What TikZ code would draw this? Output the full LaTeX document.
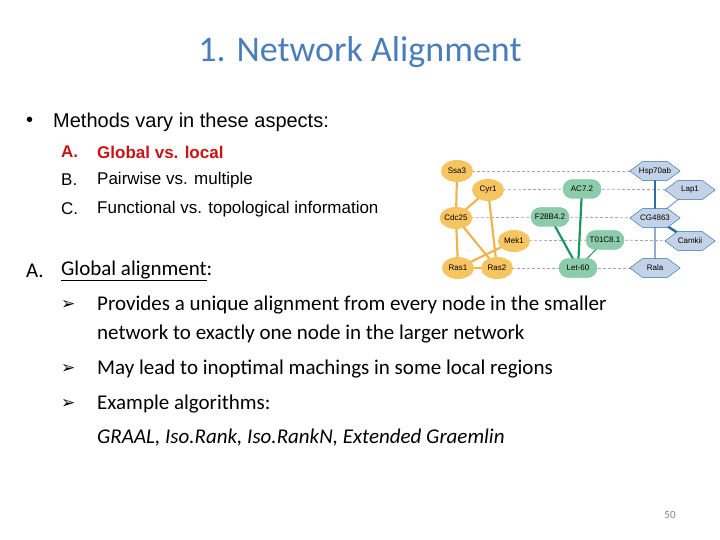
\documentclass[tikz,border=0pt]{standalone}
\usepackage{fontspec}
\setmainfont{Carlito}
\newfontfamily\arial{Liberation Sans}
\newfontfamily\dejav{DejaVu Sans}
\usetikzlibrary{shapes.geometric,shapes.misc,backgrounds}
\definecolor{ttl}{RGB}{74,126,187}
\definecolor{redt}{RGB}{200,20,20}
\definecolor{yel}{RGB}{246,196,96}
\definecolor{yele}{RGB}{238,180,80}
\definecolor{grn}{RGB}{140,204,170}
\definecolor{grne}{RGB}{30,150,100}
\definecolor{blu}{RGB}{196,210,232}
\definecolor{blue}{RGB}{40,110,170}
\definecolor{blul}{RGB}{150,170,205}
\tikzset{
 txt/.style={anchor=west,inner sep=0pt,text=black},
 ynode/.style={ellipse,fill=yel,minimum width=32pt,minimum height=22pt,inner sep=0pt,font=\arial\fontsize{8}{9}\selectfont},
 gnode/.style={rounded rectangle,fill=grn,draw=grne!60,minimum width=40pt,minimum height=19pt,inner sep=1pt,font=\arial\fontsize{8}{9}\selectfont},
 bnode/.style={regular polygon,regular polygon sides=6,fill=blu,draw=blue,minimum size=36pt,inner sep=0pt,xscale=1.4,yscale=0.6},
 btext/.style={font=\arial\fontsize{8}{9}\selectfont,inner sep=0pt},
 yedge/.style={yele,line width=2.2pt},
 gedge/.style={grne,line width=2.2pt},
 aligndash/.style={gray!70,densely dashed,line width=0.8pt},
}
\begin{document}
\begin{tikzpicture}[x=1pt,y=-1pt]
\useasboundingbox (0,0) rectangle (720,540);
\node[inner sep=0pt,text=ttl,font=\fontsize{36}{40}\selectfont] (title) at (360,52) {1. Network Alignment};
\node[txt,font=\arial\fontsize{20}{24}\selectfont] (b0) at (26,122) {•};
\node[txt,font=\arial\fontsize{20}{24}\selectfont] (m) at (53,122) {Methods vary in these aspects:};
\node[txt,font=\arial\bfseries\fontsize{17}{20}\selectfont,text=redt] (la) at (61,152) {A.};
\node[txt,font=\arial\bfseries\fontsize{17}{20}\selectfont,text=redt] (ta) at (97,152) {Global vs. local};
\node[txt,font=\arial\fontsize{17}{20}\selectfont] (lb) at (61,180) {B.};
\node[txt,font=\arial\fontsize{17}{20}\selectfont] (tb) at (97,180) {Pairwise vs. multiple};
\node[txt,font=\arial\fontsize{17}{20}\selectfont] (lc) at (61,209) {C.};
\node[txt,font=\arial\fontsize{17}{20}\selectfont] (tc) at (97,209) {Functional vs. topological information};
% network
\node[ynode] (ssa) at (457,171) {Ssa3};
\node[ynode] (cyr) at (488,190) {Cyr1};
\node[ynode] (cdc) at (456,218) {Cdc25};
\node[ynode] (mek) at (514,241) {Mek1};
\node[ynode] (ras1) at (458,268) {Ras1};
\node[ynode] (ras2) at (497,268) {Ras2};
\node[gnode] (ac) at (582,189) {AC7.2};
\node[gnode] (f28) at (550,217) {F28B4.2};
\node[gnode] (t01) at (605,240) {T01C8.1};
\node[gnode] (let) at (578,268) {Let-60};
\node[bnode] (hsp) at (655,171) {};
\node[btext] (hspt) at (655,171) {Hsp70ab};
\node[bnode] (lap) at (690,190) {};
\node[btext] (lapt) at (690,190) {Lap1};
\node[bnode] (cg) at (655,218) {};
\node[btext] (cgt) at (655,218) {CG4863};
\node[bnode] (cam) at (690,241) {};
\node[btext] (camt) at (690,241) {Camkii};
\node[bnode] (ral) at (655,268) {};
\node[btext] (ralt) at (655,268) {Rala};
\begin{pgfonlayer}{background}
\draw[aligndash] (ssa.center) -- (hsp.center);
\draw[aligndash] (cyr.center) -- (ac.center); \draw[aligndash] (ac.center) -- (lap.center);
\draw[aligndash] (cdc.center) -- (f28.center); \draw[aligndash] (f28.center) -- (cg.center);
\draw[aligndash] (mek.center) -- (t01.center); \draw[aligndash] (t01.center) -- (cam.center);
\draw[aligndash] (ras2.center) -- (let.center); \draw[aligndash] (let.center) -- (ral.center);
\draw[yedge] (ssa.center) -- (cdc.center);
\draw[yedge] (cyr.center) -- (cdc.center);
\draw[yedge] (cyr.center) -- (ras2.center);
\draw[yedge] (cdc.center) -- (ras1.center);
\draw[yedge] (cdc.center) -- (ras2.center);
\draw[yedge] (mek.center) -- (ras1.center);
\draw[yedge] (ras1.center) -- (ras2.center);
\draw[gedge] (ac.center) -- (let.center);
\draw[gedge] (f28.center) -- (let.center);
\draw[grne,line width=1pt] (t01.center) -- (let.center);
\draw[blue,line width=2.5pt] (hsp.center) -- (cg.center);
\draw[blue,line width=2.5pt] (cg.center) -- (cam.center);
\draw[blul,line width=1.2pt] (cg.center) -- (lap.center);
\draw[blul,line width=1.2pt] (cg.center) -- (ral.center);
\end{pgfonlayer}
% lower text
\node[txt,font=\fontsize{21}{25}\selectfont] (la2) at (26,271) {A.};
\node[txt,font=\fontsize{21}{25}\selectfont] (g) at (61,271) {\underline{Global alignment}:};
\node[txt,font=\dejav\bfseries\fontsize{17}{20}\selectfont] (a1) at (61,305) {➢};
\node[txt,font=\fontsize{21}{25}\selectfont] (t1) at (97,305) {Provides a unique alignment from every node in the smaller};
\node[txt,font=\fontsize{21}{25}\selectfont] (t1b) at (97,334) {network to exactly one node in the larger network};
\node[txt,font=\dejav\bfseries\fontsize{17}{20}\selectfont] (a2) at (61,369) {➢};
\node[txt,font=\fontsize{21}{25}\selectfont] (t2) at (97,369) {May lead to inoptimal machings in some local regions};
\node[txt,font=\dejav\bfseries\fontsize{17}{20}\selectfont] (a3) at (61,404) {➢};
\node[txt,font=\fontsize{21}{25}\selectfont] (t3) at (97,404) {Example algorithms:};
\node[txt,font=\itshape\fontsize{21}{25}\selectfont] (t4) at (97,438) {GRAAL, Iso.Rank, Iso.RankN, Extended Graemlin};
\node[font=\fontsize{11}{13}\selectfont,text=gray] (pg) at (670,515) {50};
\end{tikzpicture}
\end{document}
